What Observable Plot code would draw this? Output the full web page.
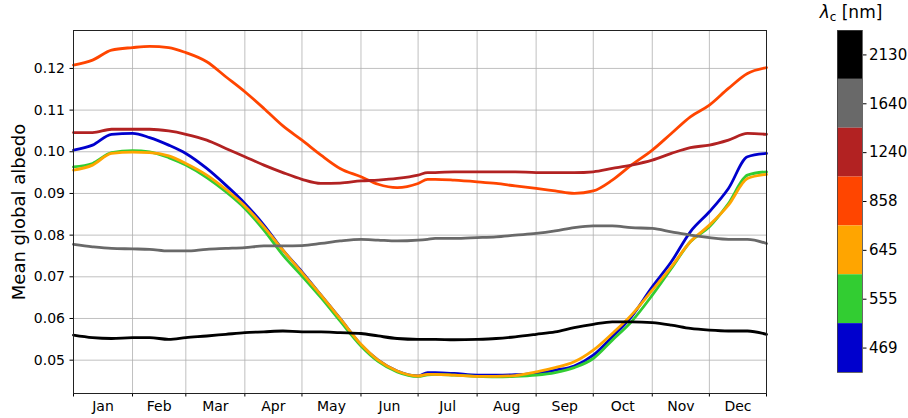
<!DOCTYPE html>
<html><head><meta charset="utf-8">
<script src="https://cdn.jsdelivr.net/npm/d3@7"></script>
<script src="https://cdn.jsdelivr.net/npm/@observablehq/plot@0.6"></script>
<style>
body{margin:0;background:#fff;font-family:"DejaVu Sans",sans-serif;}
#wrap{position:relative;width:908px;height:418px;overflow:hidden;}
#main,#cbar{position:absolute;top:0;}
#main{left:0;}
#cbar{left:780px;}
#cbtitle{position:absolute;left:801px;width:100px;top:2px;text-align:center;font-size:17px;color:#000;white-space:nowrap;}
#cbtitle sub{font-size:12px;vertical-align:-3px;}
#main [aria-label="y-axis label"] text{font-size:18px;}
</style>
</head><body>
<div id="wrap"><div id="main"></div><div id="cbar"></div><div id="cbtitle"><i>λ</i><sub>c</sub> [nm]</div></div>
<script>
const days = [0,10,20,31,40,50,59,70,80,90,100,110,120,130,140,151,160,170,181,186,190,200,212,222,232,243,253,263,273,283,293,304,314,324,334,344,354,364];
const wavelengths = [469,555,645,858,1240,1640,2130];
const colors = ["#0000CD","#32CD32","#FFA500","#FF4500","#B22222","#696969","#000000"];
const alb469 = [0.1004,0.1016,0.1042,0.1044,0.1034,0.1016,0.0996,0.0960,0.0920,0.0876,0.0824,0.0764,0.0712,0.0656,0.0600,0.0537,0.0500,0.0474,0.0462,0.0470,0.0470,0.0468,0.0464,0.0464,0.0465,0.0468,0.0476,0.0486,0.0512,0.0556,0.0604,0.0676,0.0736,0.0808,0.0856,0.0912,0.0988,0.0996];
const alb555 = [0.0964,0.0972,0.0998,0.1003,0.1000,0.0986,0.0968,0.0938,0.0904,0.0864,0.0812,0.0752,0.0702,0.0650,0.0594,0.0534,0.0497,0.0472,0.0461,0.0465,0.0466,0.0464,0.0461,0.0460,0.0461,0.0464,0.0470,0.0482,0.0504,0.0548,0.0592,0.0656,0.0720,0.0784,0.0820,0.0876,0.0944,0.0952];
const alb645 = [0.0956,0.0968,0.0996,0.0999,0.0998,0.0990,0.0972,0.0944,0.0910,0.0870,0.0820,0.0764,0.0710,0.0656,0.0600,0.0538,0.0500,0.0474,0.0462,0.0466,0.0466,0.0464,0.0461,0.0461,0.0463,0.0472,0.0482,0.0496,0.0524,0.0564,0.0608,0.0668,0.0724,0.0784,0.0824,0.0872,0.0936,0.0946];
const alb858 = [0.1208,0.1220,0.1244,0.1250,0.1253,0.1250,0.1238,0.1216,0.1180,0.1144,0.1104,0.1062,0.1028,0.0992,0.0960,0.0940,0.0922,0.0914,0.0924,0.0934,0.0934,0.0932,0.0928,0.0924,0.0918,0.0912,0.0906,0.0900,0.0906,0.0932,0.0968,0.1004,0.1044,0.1084,0.1112,0.1152,0.1188,0.1202];
const alb1240 = [0.1046,0.1046,0.1054,0.1054,0.1054,0.1050,0.1042,0.1028,0.1008,0.0988,0.0968,0.0950,0.0934,0.0924,0.0925,0.0930,0.0932,0.0936,0.0944,0.0950,0.0950,0.0952,0.0952,0.0952,0.0952,0.0950,0.0950,0.0950,0.0952,0.0960,0.0968,0.0980,0.0996,0.1010,0.1016,0.1028,0.1044,0.1042];
const alb1640 = [0.0778,0.0772,0.0768,0.0767,0.0766,0.0762,0.0762,0.0766,0.0768,0.0770,0.0774,0.0774,0.0775,0.0780,0.0786,0.0790,0.0788,0.0786,0.0788,0.0790,0.0792,0.0792,0.0794,0.0796,0.0800,0.0804,0.0810,0.0818,0.0822,0.0822,0.0818,0.0816,0.0808,0.0800,0.0794,0.0790,0.0790,0.0780];
const alb2130 = [0.0560,0.0554,0.0552,0.0554,0.0554,0.0550,0.0554,0.0558,0.0562,0.0566,0.0568,0.0570,0.0568,0.0568,0.0566,0.0564,0.0558,0.0552,0.0550,0.0550,0.0550,0.0549,0.0550,0.0552,0.0556,0.0562,0.0568,0.0578,0.0586,0.0592,0.0592,0.0590,0.0584,0.0576,0.0572,0.0570,0.0570,0.0562];
const monthStarts = [0,31,59,90,120,151,181,212,243,273,304,334,364];
const monthNames = ["Jan","Feb","Mar","Apr","May","Jun","Jul","Aug","Sep","Oct","Nov","Dec"];
const yTicks = [0.05,0.06,0.07,0.08,0.09,0.10,0.11,0.12];

const series = [alb469, alb555, alb645, alb858, alb1240, alb1640, alb2130];
const rows = [];
series.forEach((vals, k) => vals.forEach((v, i) => rows.push({day: days[i], albedo: v, wl: wavelengths[k]})));
const monthMids = monthNames.map((m, i) => (monthStarts[i] + monthStarts[i + 1]) / 2);
const nameByMid = new Map(monthMids.map((d, i) => [d, monthNames[i]]));
const gridStyle = {stroke: "#b0b0b0", strokeOpacity: 1, strokeWidth: 0.8};

const main = Plot.plot({
  width: 908, height: 418,
  marginLeft: 73, marginRight: 142, marginTop: 30, marginBottom: 25,
  style: {fontFamily: "DejaVu Sans, sans-serif", fontSize: "14px", color: "black", background: "white"},
  x: {domain: [0, 364]},
  y: {domain: [0.042, 0.1291]},
  color: {type: "ordinal", domain: wavelengths, range: colors},
  marks: [
    Plot.gridX(monthStarts, gridStyle),
    Plot.gridY(yTicks, gridStyle),
    Plot.line(rows, {x: "day", y: "albedo", z: "wl", stroke: "wl", strokeWidth: 2.8, curve: "monotone-x"}),
    Plot.axisX(monthStarts, {tickSize: 3.5, tickFormat: () => "", label: null}),
    Plot.axisX(monthMids, {tickSize: 0, tickPadding: 8, tickFormat: d => nameByMid.get(d), label: null}),
    Plot.axisY(yTicks, {tickSize: 3.5, tickPadding: 5, tickFormat: d3.format(".2f"), label: "Mean global albedo", labelAnchor: "center", labelArrow: "none", labelOffset: 61}),
    Plot.frame({stroke: "#222", strokeWidth: 1})
  ]
});
document.getElementById("main").appendChild(main);

const cbLabels = wavelengths.map(String).reverse();
const cbColors = colors.slice().reverse();
const cbRows = cbLabels.map((l, i) => ({label: l, color: cbColors[i]}));
const cbar = Plot.plot({
  width: 128, height: 418,
  marginLeft: 57, marginRight: 46, marginTop: 30, marginBottom: 46,
  style: {fontFamily: "DejaVu Sans, sans-serif", fontSize: "15px", color: "black", background: "transparent"},
  x: {domain: [0, 1], axis: null},
  y: {type: "band", domain: cbLabels, padding: 0, round: false, axis: null},
  marks: [
    Plot.barX(cbRows, {x1: 0, x2: 1, y: "label", fill: "color", inset: 0}),
    Plot.axisY({anchor: "right", tickSize: 3.5, tickPadding: 3, label: null}),
    Plot.frame({stroke: "#444", strokeWidth: 0.8})
  ]
});
document.getElementById("cbar").appendChild(cbar);
</script>
</body></html>
